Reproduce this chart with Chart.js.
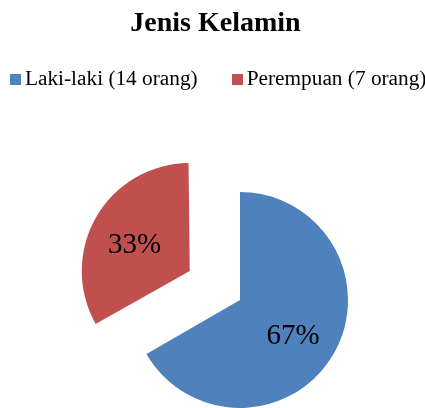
<!DOCTYPE html>
<html>
<head>
<meta charset="utf-8">
<script src="https://cdn.jsdelivr.net/npm/chart.js"></script>
<style>
  body { margin: 0; background: #fff; }
  .wrap { position: relative; width: 425px; height: 408px; overflow: hidden; }
  #pie { position: absolute; left: 0; top: 0; }
  .title { position: absolute; left: 3px; top: 8px; width: 425px; text-align: center;
           font: bold 28px/28px "Liberation Serif", "Times New Roman", serif; color: #000; }
  .legend { position: absolute; left: 10px; top: 68px; display: flex; gap: 34px;
            font: 21.3px/21px "Liberation Serif", "Times New Roman", serif; color: #000; white-space: nowrap; }
  .legend .item { display: flex; align-items: center; }
  .legend .box { width: 11px; height: 11px; margin-right: 4px; margin-top: 1px; }
</style>
</head>
<body>
<div class="wrap">
  <canvas id="pie" width="425" height="408"></canvas>
  <div class="title" id="title"></div>
  <div class="legend" id="legend"></div>
</div>
<script>
var chartTitle = "Jenis Kelamin";
var categories = ["Laki-laki (14 orang)", "Perempuan (7 orang)"];
var values = [14, 7];
var percentLabels = ["67%", "33%"];
var colors = ["#4F81BD", "#C0504D"];
var explode = [0, 58];

document.getElementById("title").textContent = chartTitle;
var legendEl = document.getElementById("legend");
categories.forEach(function (name, i) {
  var item = document.createElement("span");
  item.className = "item";
  var box = document.createElement("span");
  box.className = "box";
  box.style.background = colors[i];
  item.appendChild(box);
  item.appendChild(document.createTextNode(name));
  legendEl.appendChild(item);
});

// keep exploded slices the same radius as the others
var keepRadius = {
  id: "keepRadius",
  afterDatasetUpdate: function (chart, args) {
    args.meta.data.forEach(function (arc) {
      var off = ((arc.options && arc.options.offset) || 0) / 4;
      var fix = 1 - Math.sin(Math.min(Math.PI, arc.circumference || 0));
      arc.outerRadius -= off * fix;
    });
  }
};

var sliceLabels = {
  id: "sliceLabels",
  afterDatasetsDraw: function (chart) {
    var ctx = chart.ctx;
    var meta = chart.getDatasetMeta(0);
    ctx.save();
    ctx.font = '29px "Liberation Serif", "Times New Roman", serif';
    ctx.fillStyle = "#000";
    ctx.textAlign = "center";
    ctx.textBaseline = "middle";
    meta.data.forEach(function (arc, i) {
      var mid = (arc.startAngle + arc.endAngle) / 2;
      var d = ((arc.options && arc.options.offset) || 0) / 4 + arc.outerRadius * 0.6;
      ctx.fillText(percentLabels[i], arc.x + Math.cos(mid) * d - 3, arc.y + Math.sin(mid) * d + 4);
    });
    ctx.restore();
  }
};

new Chart(document.getElementById("pie").getContext("2d"), {
  type: "pie",
  data: {
    labels: categories,
    datasets: [{
      data: values,
      backgroundColor: colors,
      borderWidth: 0,
      offset: explode.map(function (v) { return v * 4; })
    }]
  },
  options: {
    responsive: false,
    animation: false,
    radius: 108,
    cutout: "0%",
    layout: { padding: { left: 55, top: 192, right: 0, bottom: 0 } },
    plugins: {
      legend: { display: false },
      title: { display: false },
      tooltip: { enabled: false }
    }
  },
  plugins: [keepRadius, sliceLabels]
});
</script>
</body>
</html>
